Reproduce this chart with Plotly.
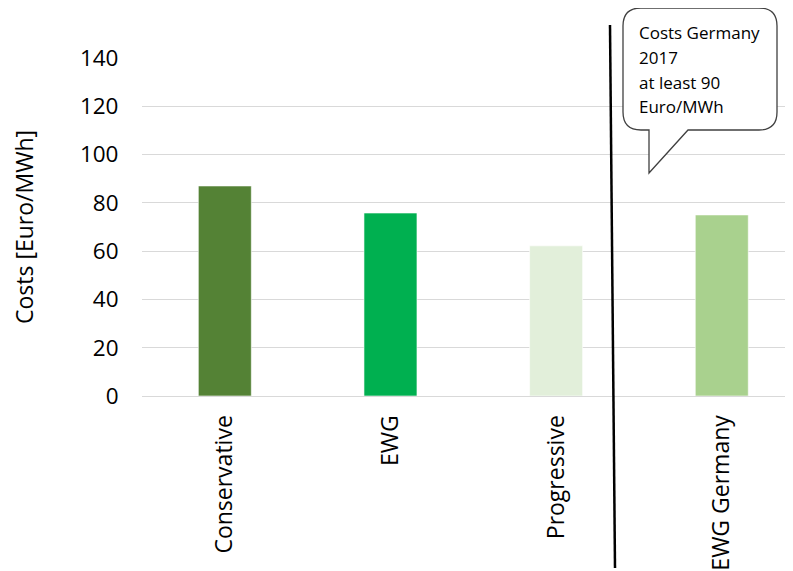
import plotly.graph_objects as go

categories = ["Conservative", "EWG", "Progressive", "EWG Germany"]
costs = [87, 75.8, 62.2, 75]
bar_colors = ["#548235", "#00B050", "#E2EFDA", "#A9D18E"]
y_ticks = [0, 20, 40, 60, 80, 100, 120, 140]
callout_lines = ["Costs Germany", "2017", "at least 90", "Euro/MWh"]

OFF = 8  # page body margin offset
W, H = 793 - OFF, 571 - OFF
L, R, T, B = 142 - OFF, 0, 58 - OFF, 175
PW = W - L - R
PH = H - T - B


def px(x):
    return (x - OFF - L) / PW


def py(y):
    return (H - B - (y - OFF)) / PH


fig = go.Figure()
fig.add_trace(go.Bar(
    x=list(range(len(categories))),
    y=costs,
    width=0.32,
    marker=dict(color=bar_colors, line=dict(color="rgba(255,255,255,0.6)", width=1)),
    hoverinfo="skip",
))


def P(x, y):
    return f"{px(x):.5f},{py(y):.5f}"


x0, x1, y0, y1, r = 623, 777, 8, 130, 18
path = (
    f"M {P(x0 + r, y0)} L {P(x1 - r, y0)} Q {P(x1, y0)} {P(x1, y0 + r)} "
    f"L {P(x1, y1 - r)} Q {P(x1, y1)} {P(x1 - r, y1)} "
    f"L {P(688, y1)} L {P(649, 173)} L {P(649, y1)} "
    f"L {P(x0 + r, y1)} Q {P(x0, y1)} {P(x0, y1 - r)} "
    f"L {P(x0, y0 + r)} Q {P(x0, y0)} {P(x0 + r, y0)} Z"
)

shapes = [
    dict(type="line", xref="paper", yref="paper",
         x0=px(610), y0=py(25), x1=px(615), y1=py(568),
         line=dict(color="black", width=2.5)),
    dict(type="path", xref="paper", yref="paper", path=path,
         fillcolor="white", line=dict(color="#404040", width=1.3)),
]

annotations = []
for i, t in enumerate(callout_lines):
    annotations.append(dict(
        xref="paper", yref="paper", x=px(637), y=py(33 + i * 24.6),
        text=t, showarrow=False, xanchor="left", yanchor="middle",
        font=dict(family="Open Sans", size=17, color="black"),
    ))

fig.update_layout(
    width=W, height=H,
    margin=dict(l=L, r=R, t=T, b=B, autoexpand=False),
    paper_bgcolor="white", plot_bgcolor="white",
    showlegend=False,
    shapes=shapes,
    annotations=annotations,
    font=dict(family="Open Sans", color="black"),
    xaxis=dict(
        range=[-0.5, 3.43],
        tickmode="array",
        tickvals=list(range(len(categories))),
        ticktext=categories,
        tickangle=-90,
        tickfont=dict(size=23, color="black"),
        showgrid=False, zeroline=False, showline=False,
        ticks="outside", ticklen=9, tickcolor="rgba(0,0,0,0)",
        fixedrange=True,
    ),
    yaxis=dict(
        range=[0, 140],
        tickmode="array",
        tickvals=y_ticks,
        tickfont=dict(size=22.5, color="black"),
        showgrid=True, gridcolor="#D9D9D9", gridwidth=1,
        zeroline=True, zerolinecolor="#D9D9D9", zerolinewidth=1,
        showline=False,
        ticks="outside", ticklen=18, tickcolor="rgba(0,0,0,0)",
        title=dict(text="Costs [Euro/MWh]", font=dict(size=23, color="black"), standoff=40),
        fixedrange=True,
    ),
)

fig.write_html("out.html")
